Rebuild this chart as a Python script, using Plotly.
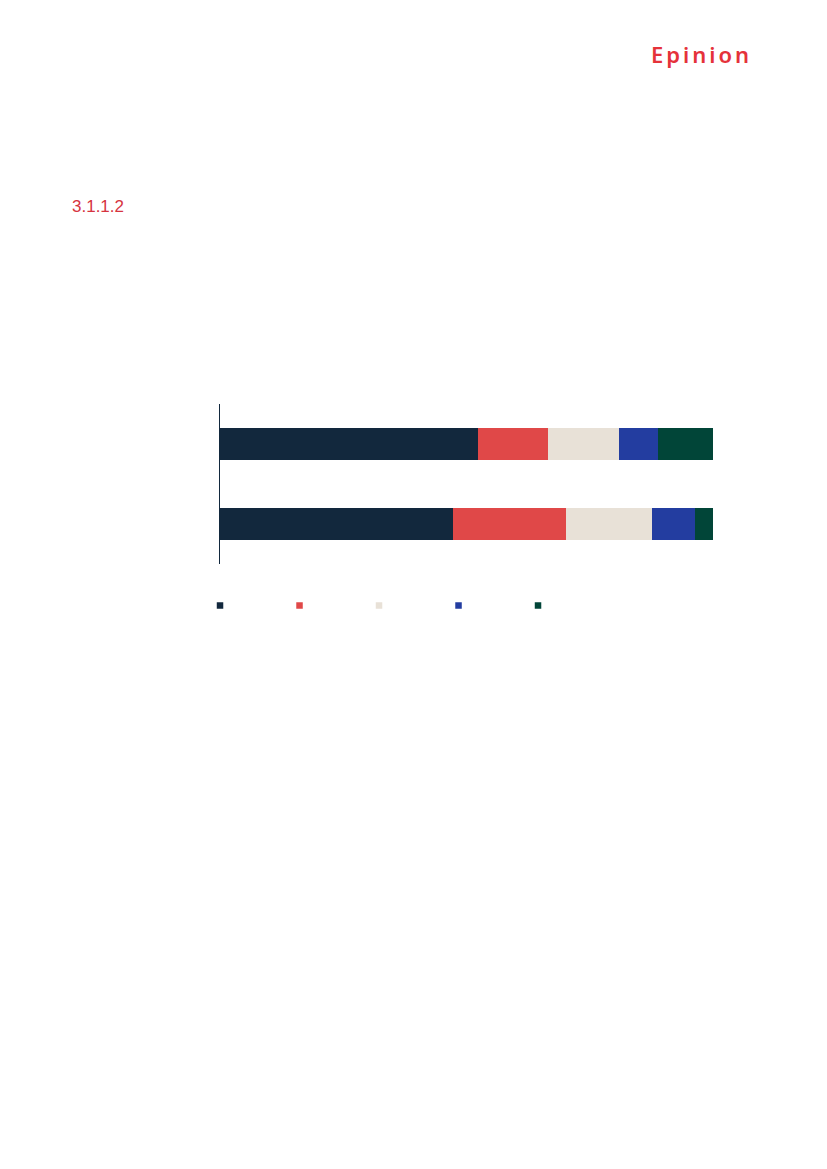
import plotly.graph_objects as go

# ---- data ----
categories = ["Gruppe 1", "Gruppe 2"]
series_names = ["Serie 1", "Serie 2", "Serie 3", "Serie 4", "Serie 5"]
s1 = [52.4, 47.3]
s2 = [14.2, 22.8]
s3 = [14.4, 17.5]
s4 = [7.9, 8.8]
s5 = [11.1, 3.6]
series_values = [s1, s2, s3, s4, s5]
colors = ["#12283D", "#E04848", "#E8E1D7", "#233DA0", "#014538"]

W, H = 827, 1169
OFF = 8  # page body margin
L, R, T, B = 219.5 - OFF, 713 - OFF, 404 - OFF, 564 - OFF  # plot area (figure px)


def px_x(px):  # px in page coordinates
    return (px - OFF - L) / (R - L)


def px_y(py):
    return (B - (py - OFF)) / (B - T)


fig = go.Figure()
for name, vals, col in zip(series_names, series_values, colors):
    fig.add_trace(go.Bar(
        x=vals, y=categories, orientation="h", name=name,
        marker=dict(color=col, line=dict(width=0)),
        width=0.4, showlegend=False, hoverinfo="x+y+name",
    ))
# legend entries (small squares, labels not shown in reference)
for name, col in zip(series_names, colors):
    fig.add_trace(go.Scatter(
        x=[None], y=[None], mode="markers", name="",
        marker=dict(symbol="square", size=6.5, color=col, line=dict(width=0)),
        showlegend=True, hoverinfo="skip",
    ))

fig.update_layout(
    width=W, height=H,
    margin=dict(l=L, r=W - R, t=T, b=H - B, pad=0),
    paper_bgcolor="white", plot_bgcolor="white",
    barmode="stack", bargap=0.6,
    showlegend=True,
    legend=dict(
        orientation="h", x=px_x(199.5), xanchor="left",
        y=px_y(605.5), yanchor="middle",
        entrywidth=34.5, entrywidthmode="pixels",
        itemsizing="trace", font=dict(size=10, color="#333"),
        bgcolor="rgba(0,0,0,0)", traceorder="normal",
    ),
    xaxis=dict(range=[0, 100], visible=False, showgrid=False, zeroline=False,
               fixedrange=True),
    yaxis=dict(showgrid=False, zeroline=False,
               showticklabels=False, ticks="", showline=True,
               linecolor="#12283D", linewidth=1),
    annotations=[
        dict(text='<span style="letter-spacing:3px">Epinion</span>',
             xref="paper", yref="paper", x=px_x(754), y=px_y(54),
             xanchor="right", yanchor="middle", showarrow=False,
             font=dict(family="Noto Sans", size=22, color="#E5323A", weight=600)),
        dict(text="3.1.1.2", xref="paper", yref="paper",
             x=px_x(69), y=px_y(207), xanchor="left", yanchor="middle",
             showarrow=False,
             font=dict(family="Liberation Sans", size=17, color="#D6343F")),
    ],
)
fig.update_yaxes(range=[1.5, -0.5], autorange=False)

fig.write_html("out.html")
